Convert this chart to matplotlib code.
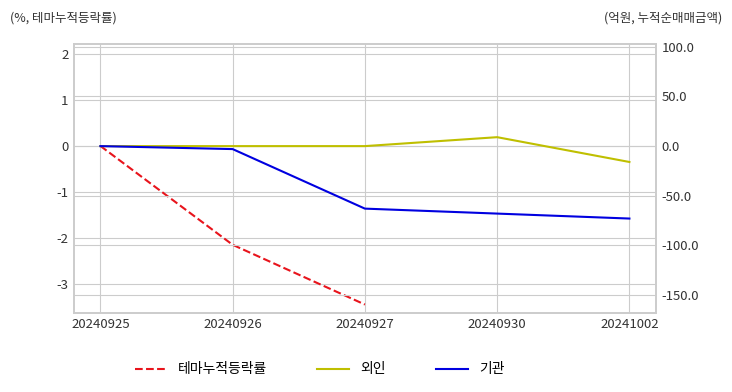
import matplotlib
matplotlib.use('Agg')
import matplotlib.pyplot as plt

plt.rcParams['font.family'] = ['Noto Sans CJK KR', 'DejaVu Sans']
plt.rcParams['axes.unicode_minus'] = False

dates = ['20240925', '20240926', '20240927', '20240930', '20241002']
theme_ret = [0.0, -2.15, -3.45]          # %, 테마누적등락률
foreign = [0.0, 0.0, 0.0, 9.0, -16.0]    # 억원, 외인
inst = [0.0, -3.0, -63.0, -68.0, -73.0]  # 억원, 기관

fig, ax = plt.subplots(figsize=[7.32, 3.92], dpi=100)
fig.subplots_adjust(left=0.101, right=0.896, top=0.888, bottom=0.202)
ax2 = ax.twinx()

x = list(range(len(dates)))
l1, = ax.plot(x[:len(theme_ret)], theme_ret, color='#e8141c', ls='--', lw=1.5, label='테마누적등락률')
l2, = ax2.plot(x, foreign, color='#bfbf00', lw=1.5, label='외인')
l3, = ax2.plot(x, inst, color='#0000e0', lw=1.5, label='기관')

ax.set_xlim(-0.2, 4.2)
ax.set_ylim(-3.63, 2.22)
ax2.set_ylim(-168, 103)
ax.set_xticks(x)
ax.set_xticklabels(dates)
ax.set_yticks([-3, -2, -1, 0, 1, 2])
ax2.set_yticks([-150, -100, -50, 0, 50, 100])
ax2.set_yticklabels([f'{v:.1f}' for v in [-150, -100, -50, 0, 50, 100]])

for a in (ax, ax2):
    a.grid(True, color='#cccccc', lw=0.8)
    a.tick_params(length=0, labelsize=9.5, colors='#333333', pad=4)
    for s in a.spines.values():
        s.set_color('#cccccc')
        s.set_linewidth(1.2)
ax2.grid(axis='x', visible=False)

fig.text(0.013, 0.955, '(%, 테마누적등락률)', fontsize=9, color='#333333', ha='left', va='center')
fig.text(0.987, 0.955, '(억원, 누적순매매금액)', fontsize=9, color='#333333', ha='right', va='center')

fig.legend(handles=[l1, l2, l3], loc='lower center', bbox_to_anchor=(0.437, 0.008), ncol=3,
           frameon=False, fontsize=10, columnspacing=3.6, handlelength=2.3, handletextpad=0.8)

fig.savefig('out.png', dpi=100)
